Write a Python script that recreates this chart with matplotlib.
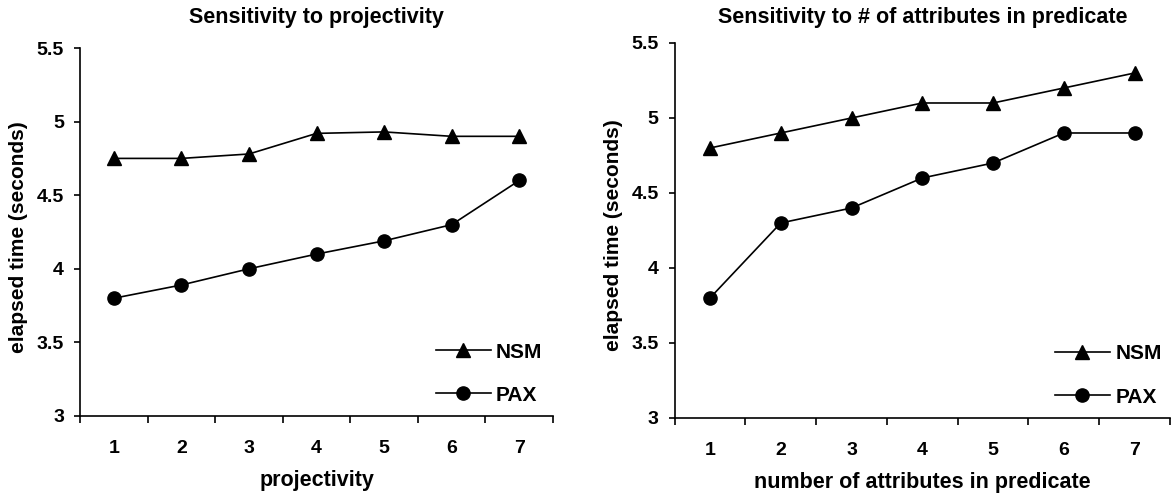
import matplotlib
matplotlib.use("Agg")
import matplotlib.pyplot as plt
import numpy as np

plt.rcParams['font.family'] = ['Liberation Sans', 'DejaVu Sans']
plt.rcParams['font.weight'] = 'bold'

# data
categories = [1, 2, 3, 4, 5, 6, 7]

proj_nsm = [4.75, 4.75, 4.78, 4.92, 4.93, 4.90, 4.90]
proj_pax = [3.80, 3.89, 4.00, 4.10, 4.19, 4.30, 4.60]

attr_nsm = [4.80, 4.90, 5.00, 5.10, 5.10, 5.20, 5.30]
attr_pax = [3.80, 4.30, 4.40, 4.60, 4.70, 4.90, 4.90]

y_ticks = [3, 3.5, 4, 4.5, 5, 5.5]
y_tick_labels = ["3", "3.5", "4", "4.5", "5", "5.5"]

titles = ["Sensitivity to projectivity", "Sensitivity to # of attributes in predicate"]
xlabels = ["projectivity", "number of attributes in predicate"]
ylabel = "elapsed time (seconds)"


def draw_panel(ax, nsm, pax, title, xlabel, title_pad, leg_x, ylab_x):
    x = np.array(categories)
    ax.plot(x, nsm, color='black', lw=1.2, marker='^', markersize=9.5, label='NSM')
    ax.plot(x, pax, color='black', lw=1.2, marker='o', markersize=9.5, label='PAX')

    ax.set_xlim(0.5, 7.5)
    ax.set_ylim(3, 5.5)
    ax.set_yticks(y_ticks)
    ax.set_yticklabels(y_tick_labels)

    # ticks between categories, labels at centres
    ax.set_xticks(np.arange(0.5, 8.0, 1.0))
    ax.set_xticklabels([])
    ax.set_xticks(x, minor=True)
    ax.set_xticklabels([str(c) for c in categories], minor=True)
    ax.tick_params(axis='x', which='major', direction='out', length=5, width=1.2)
    ax.tick_params(axis='x', which='minor', length=0, pad=17, labelsize=14)
    ax.tick_params(axis='y', direction='out', length=4.5, width=1.2, labelsize=14, pad=7)

    for s in ['top', 'right']:
        ax.spines[s].set_visible(False)
    for s in ['left', 'bottom']:
        ax.spines[s].set_linewidth(1.2)

    ax.set_title(title, fontsize=15.5, fontweight='bold', pad=title_pad)
    ax.set_xlabel(xlabel, fontsize=15.5, fontweight='bold', labelpad=10)
    ax.set_ylabel(ylabel, fontsize=15, fontweight='bold')
    ax.yaxis.set_label_coords(ylab_x, 0.487)

    ax.legend(loc='lower right', frameon=False, fontsize=15, handlelength=2.65,
              handletextpad=0.25, labelspacing=1.16, numpoints=1,
              bbox_to_anchor=(leg_x, 0.008), borderaxespad=0)


fig = plt.figure(figsize=(11.72, 4.97), dpi=100)
ax0 = fig.add_axes([0.0683, 0.163, 0.4036, 0.7404])
ax1 = fig.add_axes([0.5756, 0.159, 0.4227, 0.7545])

draw_panel(ax0, proj_nsm, proj_pax, titles[0], xlabels[0], 18, 0.995, -0.110)
draw_panel(ax1, attr_nsm, attr_pax, titles[1], xlabels[1], 14.5, 1.0, -0.104)

fig.savefig("out.png", dpi=100)
